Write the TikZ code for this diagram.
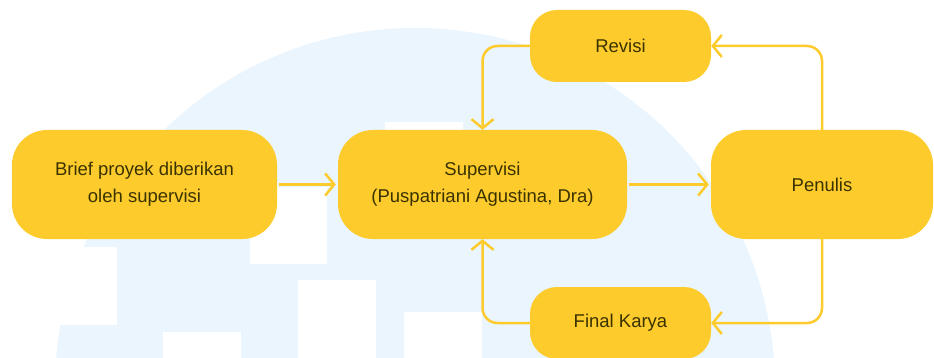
\documentclass[tikz,border=0pt]{standalone}
\usepackage{fontspec}
\setmainfont{Liberation Sans}
\usetikzlibrary{arrows.meta}
\definecolor{boxyellow}{HTML}{FDCB2C}
\definecolor{bgblue}{HTML}{EAF5FE}
\definecolor{textdark}{HTML}{3A3300}

\begin{document}
\begin{tikzpicture} [x=1pt, y=-1pt, node distance=338pt, >={Straight Barb[length=9pt,width=22pt]}, bigbox/.style={rectangle, rounded corners=35pt, fill=boxyellow, text=textdark, align=center, minimum height=109pt}, smallbox/.style={rectangle, rounded corners=27pt, fill=boxyellow, text=textdark, align=center, minimum width=181pt, minimum height=72pt}, link/.style={draw=boxyellow, line width=2.5pt, rounded corners=15pt}]
  \clip (0,0) rectangle (934,358);
  % Background
  \fill [bgblue] (415,388) circle (360pt);
  \fill [white] (0,247) rectangle (117,325);
  \fill [white] (163,332) rectangle (241,358);
  \fill [white] (250,187) rectangle (327,264);
  \fill [white] (298,280) rectangle (376,358);
  \fill [white] (385,122) rectangle (463,200);
  \fill [white] (404,312) rectangle (482,358);
{\fontsize{18.5}{27}\selectfont
  % Flow
  \node [bigbox, minimum width=265pt] (brief) at (144.5,184.5) {Brief proyek diberikan\\oleh supervisi};
  \node [bigbox, right of=brief, minimum width=289pt] (supervisi) {Supervisi\\(Puspatriani Agustina, Dra)};
  \node [bigbox, right of=supervisi, minimum width=222pt, node distance=339.5pt] (penulis) {Penulis};
  \node [smallbox] (revisi) at (620.5,46) {Revisi};
  \node [smallbox] (finalkarya) at (620.5,323) {Final Karya};
  % Draw edges
  \draw [->, link, shorten <=2pt, shorten >=2pt] (brief) -- (supervisi);
  \draw [->, link, shorten <=2pt, shorten >=2pt] (supervisi) -- (penulis);
  \draw [->, link] (penulis.north) |- (revisi.east);
  \draw [->, link] (revisi.west) -| (supervisi.north);
  \draw [->, link] (penulis.south) |- (finalkarya.east);
  \draw [->, link] (finalkarya.west) -| (supervisi.south);
}
\end{tikzpicture}
\end{document}
